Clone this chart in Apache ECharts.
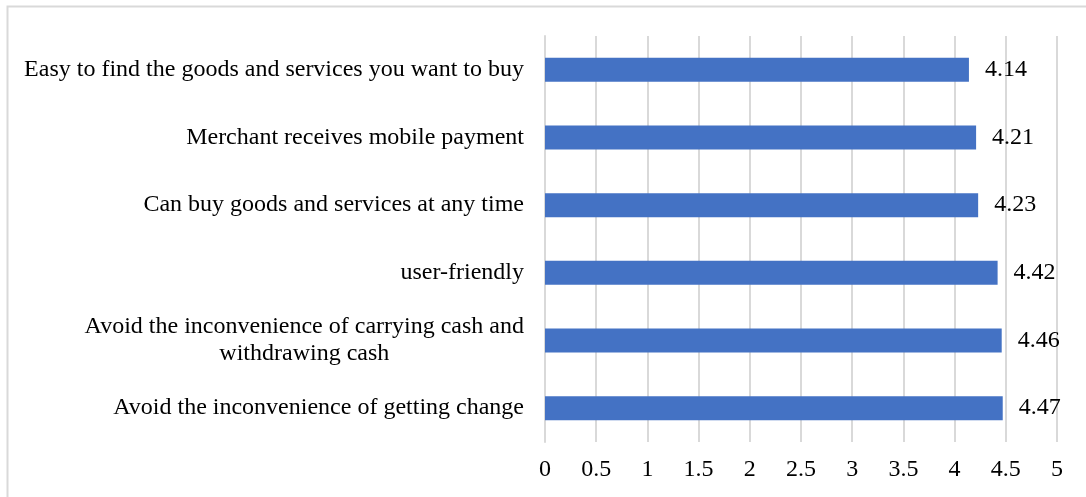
<!DOCTYPE html>
<html>
<head>
<meta charset="utf-8">
<script src="https://cdn.jsdelivr.net/npm/echarts@6/dist/echarts.min.js"></script>
<style>
  html, body { margin: 0; padding: 0; background: #fff; }
  #chart { width: 1086px; height: 497px; }
</style>
</head>
<body>
<div id="chart"></div>
<script>
// Survey items, listed bottom to top as the category axis draws them
const categories = [
  'Avoid the inconvenience of getting change',
  'Avoid the inconvenience of carrying cash and\nwithdrawing cash',
  'user-friendly',
  'Can buy goods and services at any time',
  'Merchant receives mobile payment',
  'Easy to find the goods and services you want to buy'
];
// Mean scores
const scores = [4.47, 4.46, 4.42, 4.23, 4.21, 4.14];
// Value axis range and step
const axisMin = 0;
const axisMax = 5;
const axisStep = 0.5;

const font = '"Liberation Serif", "Times New Roman", serif';
const fs = 24;
const chart = echarts.init(document.getElementById('chart'), null, { renderer: 'canvas' });

chart.setOption({
  animation: false,
  backgroundColor: '#ffffff',
  graphic: [{
    type: 'rect',
    shape: { x: 7.5, y: 6.5, width: 1100, height: 520 },
    style: { fill: 'none', stroke: '#d9d9d9', lineWidth: 2 },
    silent: true
  }],
  grid: { left: 545, right: 29, top: 36, bottom: 55, containLabel: false },
  xAxis: {
    type: 'value',
    min: axisMin,
    max: axisMax,
    interval: axisStep,
    axisLine: { show: false },
    axisTick: { show: false },
    splitLine: { show: true, lineStyle: { color: '#d9d9d9', width: 2 } },
    axisLabel: {
      margin: 16,
      fontFamily: font,
      fontSize: fs,
      color: '#000'
    }
  },
  yAxis: {
    type: 'category',
    data: categories,
    axisLine: { show: true, lineStyle: { color: '#d9d9d9', width: 2 } },
    axisTick: { show: false },
    axisLabel: {
      margin: 21,
      fontFamily: font,
      fontSize: fs,
      color: '#000',
      lineHeight: 27,
      formatter: function (v) {
        return v.split('\n').map(function (s) { return '{c|' + s + '}'; }).join('\n');
      },
      rich: {
        c: { fontFamily: font, fontSize: fs, color: '#000', lineHeight: 27, align: 'center' }
      }
    }
  },
  series: [{
    type: 'bar',
    data: scores,
    barWidth: 24,
    itemStyle: { color: '#4472C4' },
    label: {
      show: true,
      position: 'right',
      distance: 16,
      fontFamily: font,
      fontSize: fs,
      color: '#000',
      formatter: function (p) { return p.value.toFixed(2); }
    }
  }]
});
</script>
</body>
</html>
